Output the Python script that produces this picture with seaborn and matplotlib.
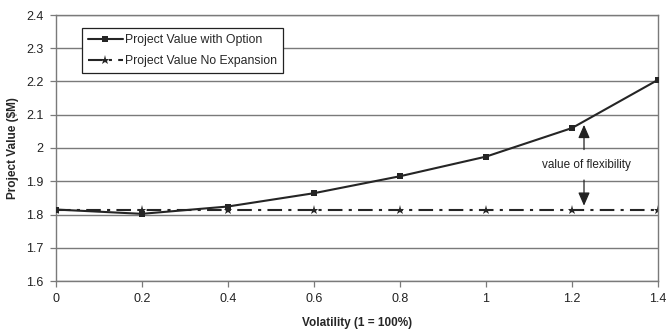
import matplotlib
matplotlib.use("Agg")
import matplotlib.pyplot as plt
import seaborn as sns
import pandas as pd

volatility = [0.0, 0.2, 0.4, 0.6, 0.8, 1.0, 1.2, 1.4]
value_with_option = [1.815, 1.802, 1.824, 1.864, 1.915, 1.974, 2.060, 2.205]
value_no_expansion = [1.814, 1.814, 1.814, 1.814, 1.814, 1.814, 1.814, 1.814]
y_ticks = [1.6, 1.7, 1.8, 1.9, 2.0, 2.1, 2.2, 2.3, 2.4]
y_tick_labels = ["1.6", "1.7", "1.8", "1.9", "2", "2.1", "2.2", "2.3", "2.4"]
x_ticks = [0, 0.2, 0.4, 0.6, 0.8, 1.0, 1.2, 1.4]
x_tick_labels = ["0", "0.2", "0.4", "0.6", "0.8", "1", "1.2", "1.4"]

sns.set_theme(style="white")
plt.rcParams["font.family"] = ["Liberation Sans", "DejaVu Sans"]

df = pd.DataFrame({"vol": volatility, "opt": value_with_option, "noexp": value_no_expansion})

fig = plt.figure(figsize=(6.67, 3.32), dpi=100)
ax = fig.add_axes([55.7 / 667, 1 - 281 / 332, (658 - 55.7) / 667, (281 - 15) / 332])

for yt in y_ticks:
    ax.axhline(yt, color="#7a7a7a", lw=1.0, zorder=0)

sns.lineplot(data=df, x="vol", y="noexp", ax=ax, color="#252525", lw=1.5,
             marker="*", markersize=6.5, markeredgewidth=0,
             label="Project Value No Expansion", zorder=2)
ax.lines[-1].set_dashes([7, 3, 1.5, 3])
sns.lineplot(data=df, x="vol", y="opt", ax=ax, color="#252525", lw=1.5,
             marker="s", markersize=4.5, markeredgewidth=0,
             label="Project Value with Option", zorder=3)

ax.set_xlim(0, 1.4)
ax.set_ylim(1.6, 2.4)
ax.set_xticks(x_ticks)
ax.set_xticklabels(x_tick_labels)
ax.set_yticks(y_ticks)
ax.set_yticklabels(y_tick_labels)
ax.tick_params(axis="both", labelsize=9, colors="#222222", length=4, width=0.9,
               direction="out", bottom=True, left=True, pad=5)
ax.tick_params(axis="both", color="#7a7a7a")

for s in ax.spines.values():
    s.set_color("#7a7a7a")
    s.set_linewidth(1.0)

ax.set_xlabel("Volatility (1 = 100%)", fontsize=8.5, fontweight="bold", labelpad=8)
ax.set_ylabel("Project Value ($M)", fontsize=8.5, fontweight="bold", labelpad=5)

handles, labels = ax.get_legend_handles_labels()
leg = ax.legend(handles[::-1], labels[::-1], loc="upper left",
                bbox_to_anchor=(0.043, 0.95), fontsize=8.8, frameon=True,
                fancybox=False, edgecolor="#222222", framealpha=1,
                handlelength=2.9, borderpad=0.5, labelspacing=0.7, handletextpad=0.15,
                borderaxespad=0)
leg.get_frame().set_linewidth(0.9)

ax.text(1.233, 1.949, "value of flexibility", fontsize=8.5, ha="center", va="center",
        color="#222222")
ax.annotate("", xy=(1.228, 2.078), xytext=(1.228, 1.987),
            arrowprops=dict(arrowstyle="-|>,head_length=0.8,head_width=0.35",
                            color="#222222", lw=0.9, mutation_scale=10))
ax.annotate("", xy=(1.228, 1.818), xytext=(1.228, 1.912),
            arrowprops=dict(arrowstyle="-|>,head_length=0.8,head_width=0.35",
                            color="#222222", lw=0.9, mutation_scale=10))

fig.savefig("out.png", dpi=100)
